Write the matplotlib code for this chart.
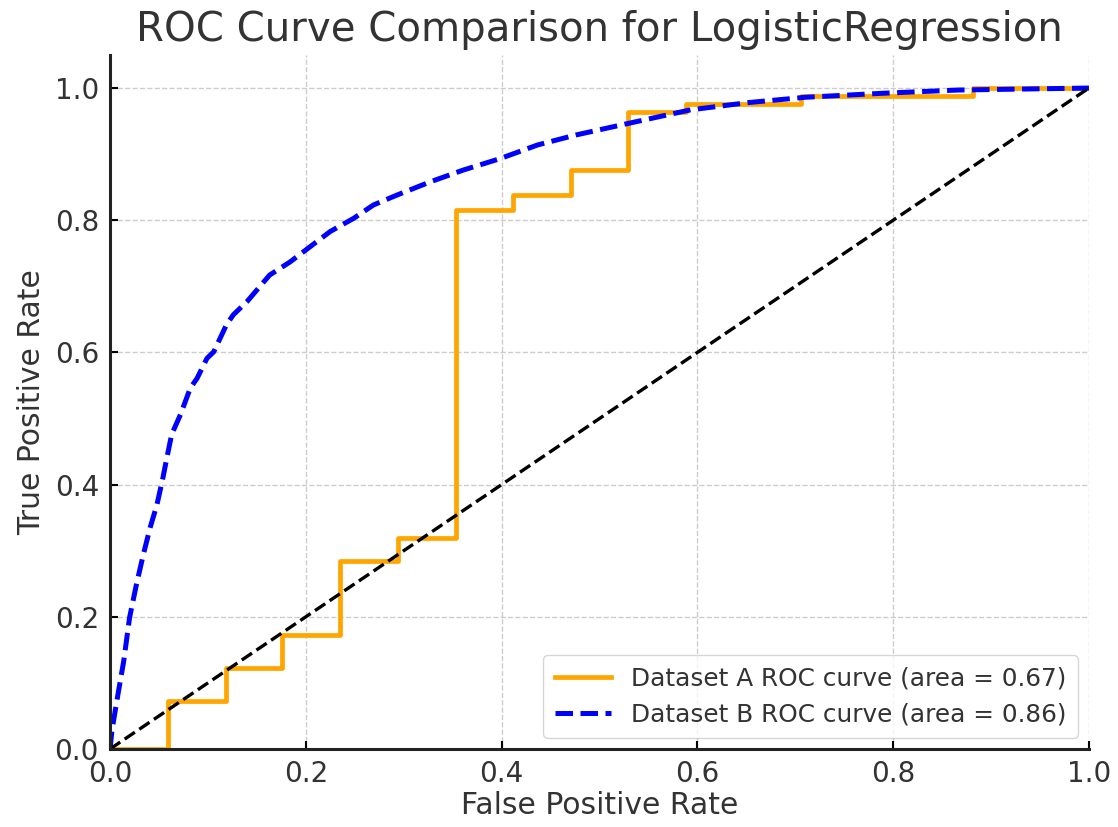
import matplotlib
matplotlib.use("Agg")
import matplotlib.pyplot as plt

# ROC points, Dataset A (step curve)
fpr_a = [0.0, 0.059, 0.118, 0.176, 0.235, 0.294, 0.353, 0.412, 0.471,
         0.529, 0.588, 0.706, 0.882, 1.0]
tpr_a = [0.0, 0.073, 0.122, 0.172, 0.284, 0.320, 0.815, 0.838, 0.876,
         0.964, 0.976, 0.988, 1.0, 1.0]
auc_a = 0.67

# ROC points, Dataset B
fpr_b = [0.0, 0.002, 0.007, 0.014, 0.020, 0.027, 0.034, 0.041, 0.048, 0.054,
         0.058, 0.063, 0.072, 0.082, 0.089, 0.099, 0.106, 0.119, 0.126, 0.140,
         0.163, 0.184, 0.200, 0.225, 0.249, 0.269, 0.293, 0.327, 0.361, 0.398,
         0.437, 0.476, 0.531, 0.593, 0.652, 0.710, 0.788, 0.866, 1.0]
tpr_b = [0.0, 0.028, 0.073, 0.133, 0.199, 0.249, 0.294, 0.335, 0.370, 0.410,
         0.440, 0.476, 0.506, 0.546, 0.561, 0.591, 0.601, 0.642, 0.657, 0.677,
         0.717, 0.737, 0.755, 0.783, 0.803, 0.823, 0.838, 0.858, 0.876, 0.893,
         0.914, 0.929, 0.947, 0.967, 0.978, 0.986, 0.992, 0.997, 1.0]
auc_b = 0.86

TXT = "#333333"

fig = plt.figure(figsize=(11.18, 8.27), dpi=100)
ax = fig.add_axes([0.0984, 0.0943, 0.8756, 0.8392])

ax.plot(fpr_a, tpr_a, drawstyle="steps-post", color="orange", lw=3.4,
        label=f"Dataset A ROC curve (area = {auc_a:.2f})")
ax.plot(fpr_b, tpr_b, color="blue", lw=3.6, ls=(0, (3.5, 1.5)),
        label=f"Dataset B ROC curve (area = {auc_b:.2f})")
ax.plot([0, 1], [0, 1], color="black", lw=2.4, ls="--")

ax.set_xlim(0.0, 1.0)
ax.set_ylim(0.0, 1.05)
ax.set_xticks([0.0, 0.2, 0.4, 0.6, 0.8, 1.0])
ax.set_yticks([0.0, 0.2, 0.4, 0.6, 0.8, 1.0])
ax.grid(True, ls="--", color="#cccccc", lw=1)
ax.set_axisbelow(True)

for s in ["top", "right"]:
    ax.spines[s].set_visible(False)
for s in ["left", "bottom"]:
    ax.spines[s].set_linewidth(2.2)
    ax.spines[s].set_color("#222222")

ax.tick_params(direction="in", length=6, width=1.5, labelsize=20,
               labelcolor=TXT, pad=8)

ax.set_xlabel("False Positive Rate", fontsize=21.5, color=TXT, labelpad=2)
ax.set_ylabel("True Positive Rate", fontsize=21.5, color=TXT, labelpad=6)
ax.set_title("ROC Curve Comparison for LogisticRegression", fontsize=29,
             color=TXT, pad=10)

leg = ax.legend(loc="lower right", fontsize=17.8, frameon=True,
                borderpad=0.45, handlelength=2.3, borderaxespad=0.45)
leg.get_frame().set_edgecolor("#cccccc")
for t in leg.get_texts():
    t.set_color(TXT)

fig.savefig("out.png", dpi=100)
